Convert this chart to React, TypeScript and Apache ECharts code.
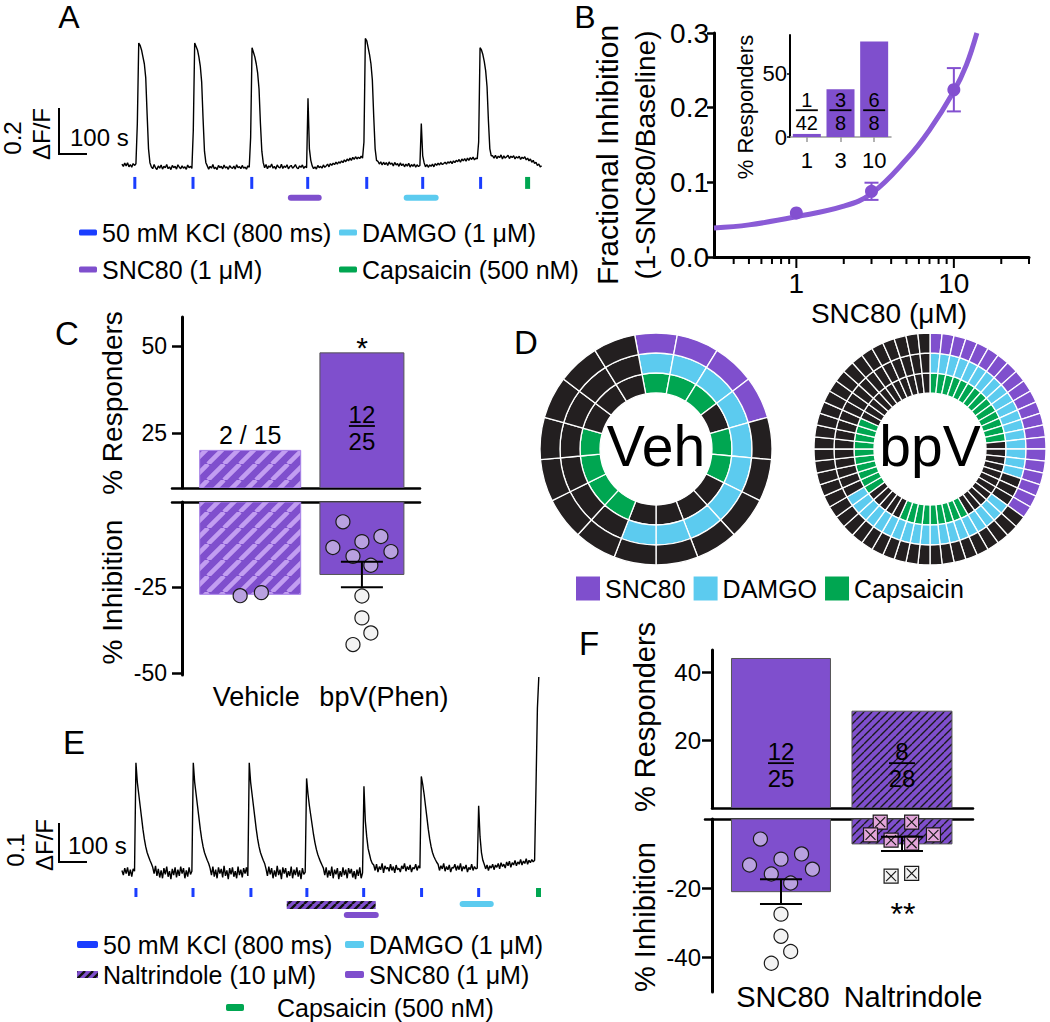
import React, { useEffect, useRef } from 'react';
import * as echarts from 'echarts';

const FONT = "'Liberation Sans', Arial, Helvetica, sans-serif";
const PURPLE = '#7f4fcd';
const CURVE = '#8a5bd6';
const LAVENDER = '#b9a1e0';
const HATCH_LIGHT = '#c29ef1';
const WHITE_PT = '#f3f3f3';
const PINK = '#e3a6da';
const BLUE = '#1a3dff';
const CYAN = '#5ccbef';
const GREEN = '#00a651';
const RING_BLACK = '#231f20';

// ---------------- Panel A / E : calcium traces (dF/F, one value every SAMPLE_S seconds) ----------------
const SAMPLE_S = 5;
const TRACE_A = [
  0.004, -0.006, 0.008, -0.004, 0.010, -0.008, 0.002, -0.010, 0.006, -0.002, 0.005,
  0.18, 0.53, 0.52, 0.50, 0.47, 0.44, 0.38, 0.22, 0.07, 0.01, -0.008,
  -0.016, 0.002, -0.012, -0.020, -0.004, -0.014, 0.000, -0.018, -0.006, -0.012, 0.002, -0.016, -0.008, -0.020, -0.002, -0.012, -0.006, -0.018, 0.001, -0.010, -0.016, -0.004, -0.014, -0.008, -0.019, 0.000, -0.012, -0.006, -0.015,
  0.15, 0.53, 0.515, 0.50, 0.47, 0.43, 0.36, 0.20, 0.06, 0.01,
  -0.004, -0.018, -0.006, -0.014, 0.002, -0.016, -0.010, -0.020, -0.002, -0.012, -0.006, -0.017, 0.000, -0.013, -0.008, -0.019, -0.003, -0.011, -0.015, -0.005, -0.018, 0.001, -0.012, -0.007, -0.016, -0.002, -0.014, -0.009, -0.018, -0.004, -0.010,
  0.12, 0.51, 0.49, 0.47, 0.44, 0.40, 0.33, 0.18, 0.06, 0.01,
  -0.012, 0.002, -0.016, -0.004, -0.010, 0.004, -0.014, -0.006, -0.018, 0.000, -0.009, -0.013, 0.003, -0.015, -0.005, -0.011, 0.001, -0.017, -0.007, -0.002, -0.014, -0.008, 0.002, -0.012, -0.016, -0.004, -0.010, 0.000, -0.015, -0.006, -0.012,
  0.29, 0.07, 0.02,
  -0.004, -0.016, -0.008, -0.018, -0.002, -0.012, -0.006, -0.014, 0.000, -0.010, -0.004, 0.004, -0.008, 0.006, -0.002, 0.008, 0.002, 0.012, 0.004, 0.014, 0.008, 0.018, 0.010, 0.022, 0.014, 0.026, 0.018, 0.030, 0.020, 0.033, 0.024, 0.036, 0.026, 0.034, 0.028, 0.038, 0.030,
  0.10, 0.55, 0.54, 0.51, 0.48, 0.44, 0.37, 0.21, 0.07, 0.02,
  0.016, 0.004, 0.014, 0.000, 0.012, 0.002, 0.010, -0.002, 0.013, 0.003, 0.008, -0.004, 0.011, 0.000, 0.006, -0.006, 0.009, -0.003, 0.005, -0.008, 0.004, -0.005, 0.007, -0.009, 0.002, -0.006, 0.004, -0.010, 0.001, -0.007, -0.002,
  0.18, 0.04, 0.01,
  -0.008, 0.002, -0.010, 0.000, -0.006, 0.004, -0.008, 0.006, -0.002, 0.008, 0.000, 0.010, 0.002, 0.006, 0.012, 0.004, 0.014, 0.008, 0.016, 0.006, 0.018, 0.010, 0.020, 0.014, 0.024, 0.012, 0.026, 0.018, 0.028, 0.016, 0.030, 0.020, 0.032, 0.024, 0.034, 0.022, 0.030, 0.026,
  0.10, 0.51, 0.50, 0.48, 0.45, 0.41, 0.34, 0.19, 0.07, 0.04,
  0.040, 0.030, 0.042, 0.028, 0.038, 0.032, 0.044, 0.026, 0.040, 0.030, 0.036, 0.042, 0.028, 0.038, 0.032, 0.040, 0.026, 0.036, 0.030, 0.038, 0.024, 0.034, 0.028, 0.036, 0.022, 0.030, 0.018, 0.026, 0.012, 0.020, 0.006, 0.012, -0.002, 0.004, -0.008, -0.004,
];
const TRACE_E = [
  0.004, -0.008, 0.010, -0.004, 0.012, -0.010, 0.006, -0.012, 0.008, 0.002,
  0.28, 0.23, 0.20, 0.17, 0.14, 0.11, 0.085, 0.065, 0.05, 0.04, 0.03, 0.022,
  0.012, -0.004, 0.016, -0.010, 0.008, -0.014, 0.004, -0.016, 0.010, -0.006, 0.014, -0.012, 0.002, -0.018, 0.008, -0.008, 0.012, -0.014, 0.006, -0.010, 0.014, -0.004, 0.010, -0.016, 0.004, -0.012, 0.012, -0.006, 0.002,
  0.28, 0.23, 0.20, 0.17, 0.14, 0.11, 0.085, 0.065, 0.05, 0.04, 0.03, 0.022,
  0.010, -0.008, 0.014, -0.012, 0.006, -0.016, 0.012, -0.004, 0.008, -0.014, 0.016, -0.010, 0.004, -0.018, 0.010, -0.006, 0.012, -0.012, 0.002, -0.016, 0.014, -0.008, 0.006, -0.014, 0.010, -0.004, 0.012, -0.010,
  0.28, 0.23, 0.20, 0.17, 0.14, 0.11, 0.085, 0.065, 0.05, 0.04, 0.03, 0.022,
  0.008, -0.010, 0.014, -0.006, 0.010, -0.016, 0.004, -0.012, 0.016, -0.008, 0.006, -0.018, 0.012, -0.004, 0.010, -0.014, 0.002, -0.010, 0.014, -0.016, 0.006, -0.008, 0.012, -0.012, 0.004, -0.018, 0.010, -0.006, 0.000,
  0.24, 0.20, 0.17, 0.145, 0.12, 0.095, 0.075, 0.058, 0.045, 0.035, 0.026, 0.018,
  0.010, -0.008, 0.012, -0.014, 0.004, -0.010, 0.014, -0.016, 0.006, -0.006, 0.010, -0.018, 0.002, -0.012, 0.012, -0.008, 0.006, -0.016, 0.010, -0.004, 0.008, -0.014, 0.002, -0.018, 0.006, -0.010, 0.012, -0.016, -0.002,
  0.22, 0.13, 0.09, 0.06, 0.045, 0.03, 0.022,
  0.018, 0.004, 0.020, 0.000, 0.014, 0.006, 0.022, -0.002, 0.016, 0.008, 0.012, 0.002, 0.020, 0.004, 0.014, -0.002, 0.018, 0.006, 0.010, 0.000, 0.016, 0.008, 0.022, 0.002, 0.014, 0.006, 0.018, 0.000, 0.012, 0.008, 0.020, 0.004, 0.016, 0.010,
  0.245, 0.225, 0.20, 0.17, 0.14, 0.11, 0.085, 0.065, 0.05, 0.04, 0.032, 0.025,
  0.020, 0.004, 0.016, 0.008, 0.022, 0.002, 0.014, 0.006, 0.018, 0.000, 0.012, 0.010, 0.020, 0.004, 0.016, 0.006, 0.022, 0.002, 0.014, 0.008, 0.018, 0.000, 0.012, 0.006, 0.020, 0.004, 0.014, 0.008, 0.010,
  0.17, 0.09, 0.05, 0.03, 0.02,
  0.008, 0.018, 0.004, 0.016, 0.010, 0.020, 0.006, 0.018, 0.012, 0.022, 0.008, 0.024, 0.014, 0.020, 0.010, 0.026, 0.016, 0.028, 0.012, 0.024, 0.018, 0.030, 0.016, 0.026, 0.020, 0.032, 0.018, 0.028, 0.022, 0.034, 0.020, 0.030, 0.024, 0.032, 0.026,
  0.03, 0.22, 0.42, 0.50,
];
// stimulus times (s)
const KCL_A = [46, 254, 464, 664, 875, 1075, 1282];
const CAPS_A = [1450];
const SNC80_A = [[593, 714]];
const DAMGO_A = [[1007, 1132]];
const KCL_E = [50, 254, 461, 661, 864, 1071, 1275];
const CAPS_E = [1489];
const NALT_E = [[589, 907]];
const SNC80_E = [[793, 918]];
const DAMGO_E = [[1207, 1329]];
const SCALE_A = [100, 0.2]; // s, dF/F
const SCALE_E = [100, 0.1];

const KCL_NAME = '50 mM KCl (800 ms)';
const DAMGO_NAME = 'DAMGO (1 μM)';
const SNC_NAME = 'SNC80 (1 μM)';
const CAPS_NAME = 'Capsaicin (500 nM)';
const NALT_NAME = 'Naltrindole (10 μM)';

// ---------------- Panel B ----------------
const B_CONC = [1, 3, 10];
const B_MEAN = [0.059, 0.088, 0.224];
const B_SEM = [0, 0.0115, 0.029];
const B_FIT_X = [0.3, 0.5, 1, 2, 3, 5, 7, 10, 12, 14];
const B_FIT_Y = [0.039, 0.043, 0.054, 0.068, 0.085, 0.131, 0.17, 0.222, 0.257, 0.3];
const B_MINOR_TICKS = [0.4, 0.5, 0.6, 0.7, 0.8, 0.9, 2, 3, 4, 5, 6, 7, 8, 9, 20, 30];
const B_MAJOR_TICKS = [1, 10];
const B_Y_TICKS = [0, 0.1, 0.2, 0.3];
const INSET_CATS = ['1', '3', '10'];
const INSET_PCT = [2.4, 37.5, 75];
const INSET_NUM = ['1', '3', '6'];
const INSET_DEN = ['42', '8', '8'];
const INSET_TICKS = [0, 50];

// ---------------- Panel C ----------------
const C_CATS = ['Vehicle', 'bpV(Phen)'];
const C_RESP = [20, 48];
const C_RESP_LABEL = '2 / 15';
const C_NUM = ['12'];
const C_DEN = ['25'];
const C_INH = [-27, -21.2];
const C_SEM_BPV = 3.7;
const C_UP_TICKS = [25, 50];
const C_LO_TICKS = [-25, -50];
const VEH_PTS = [-27.4, -26.5];
const VEH_JIT = [-0.09, 0.1];
const BPV_PTS_HI = [-5.8, -13.3, -11.6, -10.1, -14.5, -15.9, -18.5];
const BPV_JIT_HI = [-0.17, -0.26, 0, 0.17, 0.26, -0.08, 0.08];
const BPV_PTS_LO = [-27.5, -33.9, -38.3, -41.7];
const BPV_JIT_LO = [0, 0, 0.08, -0.08];

// ---------------- Panel D (run-length coded rings, clockwise from 12 o'clock) ----------------
const VEH_OUTER = [['S', 4], ['N', 13]];
const VEH_MIDDLE = [['D', 10], ['N', 7]];
const VEH_INNER = [['C', 3], ['N', 1], ['C', 2], ['N', 4], ['C', 4], ['N', 3]];
const BPV_OUTER = [['S', 21], ['N', 39]];
const BPV_MIDDLE = [['D', 18], ['N', 3], ['D', 19], ['N', 20]];
const BPV_INNER = [['C', 14], ['N', 11], ['C', 9], ['N', 5], ['C', 10], ['N', 11]];

// ---------------- Panel F ----------------
const F_CATS = ['SNC80', 'Naltrindole'];
const F_RESP = [44, 28.5];
const F_NUM = ['12', '8'];
const F_DEN = ['25', '28'];
const F_INH = [-21.0, -7.2];
const F_SEM = [3.6, 2.05];
const F_UP_TICKS = [20, 40];
const F_LO_TICKS = [-20, -40];
const NALT_PTS_HI = [-0.9, -0.9, -4.6, -4.6, -6.1, -7.0];
const NALT_JIT_HI = [-0.18, 0.08, -0.26, 0.26, -0.09, 0.08];
const NALT_PTS_LO = [-16.5, -15.7];
const NALT_JIT_LO = [-0.09, 0.08];

function hatch(bg: string, fg: string, p: number, lw: number) {
  const c = document.createElement('canvas');
  c.width = p;
  c.height = p;
  const ctx = c.getContext('2d')!;
  ctx.fillStyle = bg;
  ctx.fillRect(0, 0, p, p);
  ctx.strokeStyle = fg;
  ctx.lineWidth = lw;
  ctx.beginPath();
  for (const o of [-p, 0, p]) {
    ctx.moveTo(o, p);
    ctx.lineTo(o + p, 0);
  }
  ctx.stroke();
  return { image: c, repeat: 'repeat' };
}

function expand(rle: any[]) {
  const out: string[] = [];
  rle.forEach(([c, n]) => {
    for (let i = 0; i < n; i++) out.push(c);
  });
  return out;
}

function buildOption() {
  const HATCH_VEH = hatch(PURPLE, HATCH_LIGHT, 16, 4.5);
  const HATCH_NAL = hatch(PURPLE, '#1a1a1a', 8, 1.4);
  const HATCH_E = hatch(PURPLE, '#111', 8, 2.4);

  const lab = (size: number) => ({ fontSize: size, fontFamily: FONT, color: '#000' });
  const blackLine = (w: number) => ({ show: true, onZero: false, lineStyle: { color: '#000', width: w } });
  const noSplit = { show: false };

  const txt = (text: string, x: number, y: number, size: number, o: any = {}) => ({
    type: 'text',
    x,
    y,
    rotation: o.rot || 0,
    silent: true,
    style: {
      text,
      fontSize: size,
      fontFamily: FONT,
      fontWeight: o.weight || 'normal',
      fill: '#000',
      align: o.align || 'center',
      verticalAlign: 'middle',
      textAlign: o.align || 'center',
      textVerticalAlign: 'middle',
    },
  });
  const ROT = Math.PI / 2;

  // ---------- helper series ----------
  const tickSeries = (name: string, times: number[], xi: number, yi: number, top: number, bot: number, color: string, w: number) => ({
    type: 'custom', name, xAxisIndex: xi, yAxisIndex: yi, silent: true, itemStyle: { color },
    data: times.map((t) => [t]),
    renderItem: (params: any, api: any) => {
      const a = api.coord([api.value(0), top]);
      const b = api.coord([api.value(0), bot]);
      return { type: 'line', shape: { x1: a[0], y1: a[1], x2: b[0], y2: b[1] }, style: { stroke: color, lineWidth: w } };
    },
  });
  const spanSeries = (name: string, spans: number[][], xi: number, yi: number, level: number, color: string, w: number) => ({
    type: 'custom', name, xAxisIndex: xi, yAxisIndex: yi, silent: true, itemStyle: { color },
    data: spans.map((s) => [s[0], s[1]]),
    renderItem: (params: any, api: any) => {
      const a = api.coord([api.value(0), level]);
      const b = api.coord([api.value(1), level]);
      return { type: 'line', shape: { x1: a[0] + w / 2, y1: a[1], x2: b[0] - w / 2, y2: b[1] }, style: { stroke: color, lineWidth: w, lineCap: 'round' } };
    },
  });
  const scaleBar = (xi: number, yi: number, t0: number, v0: number, sc: number[]) => ({
    type: 'custom', xAxisIndex: xi, yAxisIndex: yi, silent: true,
    data: [[t0, v0, sc[0], sc[1]]],
    renderItem: (params: any, api: any) => {
      const t = api.value(0), v = api.value(1), dt = api.value(2), dv = api.value(3);
      const p1 = api.coord([t, v + dv]);
      const p2 = api.coord([t, v]);
      const p3 = api.coord([t + dt, v]);
      return { type: 'polyline', shape: { points: [p1, p2, p3] }, style: { stroke: '#000', lineWidth: 2, fill: null } };
    },
  });
  const traceSeries = (vals: number[], xi: number, yi: number) => ({
    type: 'line', xAxisIndex: xi, yAxisIndex: yi, silent: true, showSymbol: false, symbol: 'none',
    data: vals.map((v, i) => [i * SAMPLE_S, v]),
    lineStyle: { color: '#000', width: 1.4 },
  });
  const barSeries = (xi: number, yi: number, vals: number[], widths: number[], fills: any[], strokes: string[]) => ({
    type: 'custom', xAxisIndex: xi, yAxisIndex: yi, silent: true, clip: true, z: 2,
    data: vals.map((v, i) => [i + 1, v]),
    renderItem: (params: any, api: any) => {
      const i = params.dataIndex;
      const x = api.value(0), v = api.value(1);
      const cs = params.coordSys;
      const a = api.coord([x, 0]);
      const b = api.coord([x, v]);
      const a1 = Math.max(cs.y, Math.min(a[1], cs.y + cs.height));
      const w = widths[i];
      return {
        type: 'rect',
        shape: { x: a[0] - w / 2, y: Math.min(a1, b[1]), width: w, height: Math.abs(b[1] - a1) },
        style: { fill: fills[i], stroke: strokes[i], lineWidth: 1 },
      };
    },
  });
  const fractionSeries = (xi: number, yi: number, pts: number[][], nums: string[], dens: string[], size: number, lw: number, gN: number, gD: number) => ({
    type: 'custom', xAxisIndex: xi, yAxisIndex: yi, silent: true, z: 6,
    data: pts,
    renderItem: (params: any, api: any) => {
      const i = params.dataIndex;
      const p = api.coord([api.value(0), api.value(1)]);
      const st = (t: string, va: string) => ({ text: t, fontSize: size, fontFamily: FONT, fill: '#000', align: 'center', verticalAlign: va, textAlign: 'center', textVerticalAlign: va });
      return {
        type: 'group',
        children: [
          { type: 'text', x: p[0], y: p[1] - gN, style: st(nums[i], 'bottom') },
          { type: 'line', shape: { x1: p[0] - lw / 2, y1: p[1], x2: p[0] + lw / 2, y2: p[1] }, style: { stroke: '#000', lineWidth: 1.8 } },
          { type: 'text', x: p[0], y: p[1] + gD, style: st(dens[i], 'top') },
        ],
      };
    },
  });
  const errSeries = (xi: number, yi: number, pts: number[][], capW: number, color: string, lw: number) => ({
    type: 'custom', xAxisIndex: xi, yAxisIndex: yi, silent: true, z: 7,
    data: pts,
    renderItem: (params: any, api: any) => {
      const x = api.value(0), m = api.value(1), s = api.value(2);
      const hi = api.coord([x, m + s]);
      const lo = api.coord([x, m - s]);
      const st = { stroke: color, lineWidth: lw };
      return {
        type: 'group',
        children: [
          { type: 'line', shape: { x1: hi[0], y1: hi[1], x2: lo[0], y2: lo[1] }, style: st },
          { type: 'line', shape: { x1: hi[0] - capW / 2, y1: hi[1], x2: hi[0] + capW / 2, y2: hi[1] }, style: st },
          { type: 'line', shape: { x1: lo[0] - capW / 2, y1: lo[1], x2: lo[0] + capW / 2, y2: lo[1] }, style: st },
        ],
      };
    },
  });
  const dots = (xi: number, yi: number, cat: number, vals: number[], jit: number[], color: string, symbol = 'circle', size = 14) => ({
    type: 'scatter', xAxisIndex: xi, yAxisIndex: yi, silent: true, z: 5, symbol, symbolSize: size,
    data: vals.map((v, i) => [cat + jit[i], v]),
    itemStyle: { color, borderColor: '#1a1a1a', borderWidth: 1.2, opacity: 1 },
  });
  const RING_COLORS: any = { S: PURPLE, D: CYAN, C: GREEN, N: RING_BLACK };
  const RING_NAMES: any = { S: 'SNC80', D: 'DAMGO', C: 'Capsaicin', N: 'Non-responder' };
  const ring = (rle: any[], center: number[], r0: number, r1: number, startAngle: number) => ({
    type: 'pie', center, radius: [r0, r1], startAngle, silent: true,
    label: { show: false }, labelLine: { show: false }, emphasis: { disabled: true },
    itemStyle: { borderColor: '#fff', borderWidth: 1.3 },
    data: expand(rle).map((c) => ({ value: 1, name: RING_NAMES[c], itemStyle: { color: RING_COLORS[c] } })),
  });

  const sqX = 'path://M0,0L14,0L14,14L0,14Z M2,2L12,12 M12,2L2,12';
  const VEH_START = 90 + 360 / 17 / 2;
  const R = [56, 76, 96, 116];
  const VC = [656, 449];
  const BC = [930, 449];

  const legendText = { fontSize: 25, fontFamily: FONT, color: '#000', lineHeight: 25 };
  const lg = (name: string, icon: string, color: any) => ({ name, icon, itemStyle: { color, borderWidth: 0 } });

  return {
    animation: false,
    backgroundColor: '#fff',
    textStyle: { fontFamily: FONT },
    grid: [
      { left: 59, top: 35, width: 484, height: 170 },
      { left: 714, top: 33, width: 315, height: 224 },
      { left: 790, top: 35, width: 101, height: 102 },
      { left: 172, top: 317, width: 248, height: 171 },
      { left: 172, top: 502, width: 248, height: 173 },
      { left: 59, top: 670, width: 484, height: 250 },
      { left: 712, top: 650, width: 261, height: 158 },
      { left: 705, top: 819, width: 268, height: 173 },
    ],
    xAxis: [
      { gridIndex: 0, type: 'value', min: -225, max: 1505, show: false },
      {
        gridIndex: 1, type: 'log', logBase: 10, min: 0.3, max: 30,
        axisLine: blackLine(3), axisTick: { show: false }, splitLine: noSplit,
        axisLabel: {
          ...lab(28), margin: 12, hideOverlap: false,
          formatter: (v: number) => (B_MAJOR_TICKS.some((m) => Math.abs(v - m) < 1e-6) ? String(Math.round(v)) : ''),
        },
      },
      {
        gridIndex: 2, type: 'category', data: INSET_CATS,
        axisLine: { show: true, lineStyle: { color: '#9a9a9a', width: 1.5 } },
        axisTick: { show: true, alignWithLabel: true, length: 5, lineStyle: { color: '#9a9a9a', width: 1.5 } },
        axisLabel: { ...lab(22), margin: 12 }, splitLine: noSplit,
      },
      { gridIndex: 3, type: 'value', min: 0.3, max: 2.52, position: 'bottom', axisLine: blackLine(2.5), axisTick: { show: false }, axisLabel: { show: false }, splitLine: noSplit },
      { gridIndex: 4, type: 'value', min: 0.3, max: 2.52, position: 'top', axisLine: blackLine(2.5), axisTick: { show: false }, axisLabel: { show: false }, splitLine: noSplit },
      {
        gridIndex: 4, type: 'value', min: 0.3, max: 2.52, position: 'bottom',
        axisLine: { show: false }, axisTick: { show: false }, splitLine: noSplit,
        axisLabel: {
          ...lab(27), margin: 8, customValues: [1, 2],
          formatter: (v: number) => (Math.round(v) === 1 ? '{a|' + C_CATS[0] + '}' : '{b|' + C_CATS[1] + '}'),
          rich: { a: { ...lab(27), padding: [0, 0, 0, 12] }, b: { ...lab(27), padding: [0, 0, 0, 44] } },
        },
      },
      { gridIndex: 5, type: 'value', min: -225, max: 1505, show: false },
      { gridIndex: 6, type: 'value', min: 0.43, max: 2.587, position: 'bottom', axisLine: blackLine(2.5), axisTick: { show: false }, axisLabel: { show: false }, splitLine: noSplit },
      { gridIndex: 7, type: 'value', min: 0.372, max: 2.587, position: 'top', axisLine: blackLine(2.5), axisTick: { show: false }, axisLabel: { show: false }, splitLine: noSplit },
      {
        gridIndex: 7, type: 'value', min: 0.372, max: 2.587, position: 'bottom',
        axisLine: { show: false }, axisTick: { show: false }, splitLine: noSplit,
        axisLabel: {
          ...lab(29), margin: -10, customValues: [1, 2],
          formatter: (v: number) => (Math.round(v) === 1 ? '{a|' + F_CATS[0] + '}' : '{b|' + F_CATS[1] + '}'),
          rich: { a: { ...lab(29), padding: [0, 0, 0, 4] }, b: { ...lab(29), padding: [0, 0, 0, 22] } },
        },
      },
    ],
    yAxis: [
      { gridIndex: 0, type: 'value', min: -0.174, max: 0.565, show: false },
      {
        gridIndex: 1, type: 'value', min: 0, max: 0.3, interval: 0.1,
        axisLine: blackLine(3), splitLine: noSplit,
        axisTick: { show: true, length: 7, customValues: B_Y_TICKS, lineStyle: { color: '#000', width: 2.5 } },
        axisLabel: { ...lab(28), margin: 5, customValues: B_Y_TICKS, formatter: (v: number) => v.toFixed(1) },
      },
      {
        gridIndex: 2, type: 'value', min: 0, max: 80,
        axisLine: blackLine(2), splitLine: noSplit,
        axisTick: { show: true, length: 3, customValues: INSET_TICKS, lineStyle: { color: '#000', width: 1.5 } },
        axisLabel: { ...lab(22), margin: 3, customValues: INSET_TICKS },
      },
      {
        gridIndex: 3, type: 'value', min: 9.2, max: 58.3, offset: -10,
        axisLine: blackLine(3), splitLine: noSplit,
        axisTick: { show: true, length: 10, customValues: C_UP_TICKS, lineStyle: { color: '#000', width: 2.5 } },
        axisLabel: { ...lab(23), margin: 15, customValues: C_UP_TICKS },
      },
      {
        gridIndex: 4, type: 'value', min: -50.6, max: 0, offset: -10,
        axisLine: blackLine(3), splitLine: noSplit,
        axisTick: { show: true, length: 10, customValues: C_LO_TICKS, lineStyle: { color: '#000', width: 2.5 } },
        axisLabel: { ...lab(23), margin: 15, customValues: C_LO_TICKS },
      },
      { gridIndex: 5, type: 'value', min: -0.123, max: 0.518, show: false },
      {
        gridIndex: 6, type: 'value', min: 0, max: 46.5,
        axisLine: blackLine(3), splitLine: noSplit,
        axisTick: { show: true, length: 10, customValues: F_UP_TICKS, lineStyle: { color: '#000', width: 2.5 } },
        axisLabel: { ...lab(24), margin: 11, customValues: F_UP_TICKS },
      },
      {
        gridIndex: 7, type: 'value', min: -50, max: 0, offset: -7,
        axisLine: blackLine(3), splitLine: noSplit,
        axisTick: { show: true, length: 10, customValues: F_LO_TICKS, lineStyle: { color: '#000', width: 2.5 } },
        axisLabel: { ...lab(24), margin: 11, customValues: F_LO_TICKS },
      },
    ],
    legend: [
      { left: 79, top: 220, orient: 'vertical', itemGap: 12, itemWidth: 18, itemHeight: 6, padding: 0, selectedMode: false, textStyle: legendText,
        data: [lg(KCL_NAME, 'roundRect', BLUE), lg(SNC_NAME, 'roundRect', PURPLE)] },
      { left: 339, top: 220, orient: 'vertical', itemGap: 12, itemWidth: 18, itemHeight: 6, padding: 0, selectedMode: false, textStyle: legendText,
        data: [lg(DAMGO_NAME, 'roundRect', CYAN), lg(CAPS_NAME, 'roundRect', GREEN)] },
      { left: 576, top: 576, orient: 'horizontal', itemGap: 8, itemWidth: 24, itemHeight: 24, padding: 0, selectedMode: false, textStyle: legendText,
        data: [lg('SNC80', 'rect', PURPLE), lg('DAMGO', 'rect', CYAN), lg('Capsaicin', 'rect', GREEN)] },
      { left: 77, top: 932, orient: 'vertical', itemGap: 5, itemWidth: 21, itemHeight: 7, padding: 0, selectedMode: false, textStyle: legendText,
        data: [lg(KCL_NAME, 'roundRect', BLUE), lg(NALT_NAME, 'rect', HATCH_E)] },
      { left: 345, top: 932, orient: 'vertical', itemGap: 5, itemWidth: 19, itemHeight: 7, padding: 0, selectedMode: false, textStyle: legendText,
        data: [lg(DAMGO_NAME, 'roundRect', CYAN), lg(SNC_NAME, 'roundRect', PURPLE)] },
      { left: 226, top: 995, orient: 'vertical', itemGap: 5, itemWidth: 18, itemHeight: 7, padding: 0, selectedMode: false,
        textStyle: { ...legendText, padding: [0, 0, 0, 28] },
        data: [lg(CAPS_NAME, 'roundRect', GREEN)] },
    ],
    graphic: {
      elements: [
        txt('A', 69, 17, 32), txt('B', 585, 17, 32), txt('C', 67, 333, 33),
        txt('D', 526, 342, 33), txt('E', 74, 742, 33), txt('F', 589, 643, 33),
        txt('100 s', 70, 137, 24, { align: 'left' }),
        txt('0.2', 12, 138, 24, { rot: ROT }),
        txt('ΔF/F', 41, 134, 24, { rot: ROT }),
        txt('100 s', 68, 845, 24, { align: 'left' }),
        txt('0.1', 15, 850, 24, { rot: ROT }),
        txt('ΔF/F', 44, 845, 24, { rot: ROT }),
        txt('Fractional Inhibition', 607, 155, 30, { rot: ROT }),
        txt('(1-SNC80/Baseline)', 645, 155, 28, { rot: ROT }),
        txt('SNC80 (μM)', 889, 313, 28),
        txt('% Responders', 745, 107, 22, { rot: ROT }),
        txt('% Responders', 112, 403, 28, { rot: ROT }),
        txt('% Inhibition', 112, 592, 28, { rot: ROT }),
        txt('*', 362, 347, 30),
        txt('Veh', 656, 446, 57),
        txt('bpV', 930, 446, 57),
        txt('% Responders', 645, 717, 29, { rot: ROT }),
        txt('% Inhibition', 645, 917, 29, { rot: ROT }),
        txt('**', 903, 914, 32),
      ],
    },
    series: [
      // ---- A ----
      traceSeries(TRACE_A, 0, 0),
      scaleBar(0, 0, -225, 0.048, SCALE_A),
      tickSeries(KCL_NAME, KCL_A, 0, 0, -0.052, -0.104, BLUE, 3),
      tickSeries(CAPS_NAME, CAPS_A, 0, 0, -0.052, -0.104, GREEN, 5),
      spanSeries(SNC_NAME, SNC80_A, 0, 0, -0.143, PURPLE, 6),
      spanSeries(DAMGO_NAME, DAMGO_A, 0, 0, -0.143, CYAN, 6),
      // ---- B ----
      {
        type: 'line', xAxisIndex: 1, yAxisIndex: 1, silent: true, smooth: 0.4, showSymbol: false, symbol: 'none',
        data: B_FIT_X.map((x, i) => [x, B_FIT_Y[i]]), lineStyle: { color: CURVE, width: 5 }, z: 3,
      },
      {
        type: 'scatter', xAxisIndex: 1, yAxisIndex: 1, silent: true, symbolSize: 13, z: 4,
        data: B_CONC.map((c, i) => [c, B_MEAN[i]]), itemStyle: { color: '#8350d0', opacity: 1 },
      },
      errSeries(1, 1, B_CONC.map((c, i) => [c, B_MEAN[i], B_SEM[i]]).filter((d) => d[2] > 0), 14, '#8350d0', 2),
      {
        type: 'custom', xAxisIndex: 1, yAxisIndex: 1, silent: true, z: 3,
        data: [...B_MINOR_TICKS.map((v) => [v, 0, 0]), ...B_MAJOR_TICKS.map((v) => [v, 0, 1])],
        renderItem: (params: any, api: any) => {
          const p = api.coord([api.value(0), 0]);
          const len = api.value(2) ? 11 : 7;
          return { type: 'line', shape: { x1: p[0], y1: p[1], x2: p[0], y2: p[1] + len }, style: { stroke: '#000', lineWidth: 2 } };
        },
      },
      {
        type: 'bar', xAxisIndex: 2, yAxisIndex: 2, silent: true, barWidth: 28, data: INSET_PCT,
        itemStyle: { color: PURPLE }, z: 3,
      },
      fractionSeries(2, 2, INSET_CATS.map((c, i) => [i, 21]), INSET_NUM, INSET_DEN, 20, 22, 0, 3),
      // ---- C ----
      barSeries(3, 3, C_RESP, [101, 84], [HATCH_VEH, PURPLE], ['#a67fe6', '#555']),
      barSeries(4, 4, C_INH, [101, 84], [HATCH_VEH, PURPLE], ['#a67fe6', '#555']),
      {
        type: 'custom', xAxisIndex: 3, yAxisIndex: 3, silent: true, z: 6,
        data: [[1, C_RESP[0]]],
        renderItem: (params: any, api: any) => {
          const p = api.coord([api.value(0), api.value(1)]);
          return { type: 'text', x: p[0], y: p[1] - 3, style: { text: C_RESP_LABEL, fontSize: 25, fontFamily: FONT, fill: '#000', align: 'center', verticalAlign: 'bottom', textAlign: 'center', textVerticalAlign: 'bottom' } };
        },
      },
      fractionSeries(3, 3, [[2, 27]], C_NUM, C_DEN, 24, 26, 0, 3),
      dots(4, 4, 1, VEH_PTS, VEH_JIT, LAVENDER),
      dots(4, 4, 2, BPV_PTS_HI, BPV_JIT_HI, LAVENDER),
      dots(4, 4, 2, BPV_PTS_LO, BPV_JIT_LO, WHITE_PT),
      errSeries(4, 4, [[2, C_INH[1], C_SEM_BPV]], 42, '#000', 2),
      // ---- D ----
      ring(VEH_INNER, VC, R[0], R[1], VEH_START),
      ring(VEH_MIDDLE, VC, R[1], R[2], VEH_START),
      ring(VEH_OUTER, VC, R[2], R[3], VEH_START),
      ring(BPV_INNER, BC, R[0], R[1], 90),
      ring(BPV_MIDDLE, BC, R[1], R[2], 90),
      ring(BPV_OUTER, BC, R[2], R[3], 90),
      // ---- E ----
      traceSeries(TRACE_E, 6, 5),
      scaleBar(6, 5, -225, 0.0256, SCALE_E),
      tickSeries(KCL_NAME, KCL_E, 6, 5, -0.041, -0.064, BLUE, 3),
      tickSeries(CAPS_NAME, CAPS_E, 6, 5, -0.041, -0.064, GREEN, 5),
      {
        type: 'custom', name: NALT_NAME, xAxisIndex: 6, yAxisIndex: 5, silent: true, itemStyle: { color: PURPLE },
        data: NALT_E.map((s) => [s[0], s[1]]),
        renderItem: (params: any, api: any) => {
          const a = api.coord([api.value(0), -0.0744]);
          const b = api.coord([api.value(1), -0.0949]);
          return { type: 'rect', shape: { x: a[0], y: a[1], width: b[0] - a[0], height: b[1] - a[1] }, style: { fill: HATCH_E } };
        },
      },
      spanSeries(SNC_NAME, SNC80_E, 6, 5, -0.110, PURPLE, 6),
      spanSeries(DAMGO_NAME, DAMGO_E, 6, 5, -0.082, CYAN, 6),
      // ---- F ----
      barSeries(7, 6, F_RESP, [99, 100], [PURPLE, HATCH_NAL], ['#555', '#555']),
      barSeries(8, 7, F_INH, [99, 100], [PURPLE, HATCH_NAL], ['#555', '#555']),
      fractionSeries(7, 6, [[1, 13.2], [2, 13.2]], F_NUM, F_DEN, 24, 26, 0, 3),
      dots(8, 7, 1, BPV_PTS_HI, BPV_JIT_HI, LAVENDER),
      dots(8, 7, 1, BPV_PTS_LO, BPV_JIT_LO, WHITE_PT),
      dots(8, 7, 2, NALT_PTS_HI, NALT_JIT_HI, PINK, sqX, 14),
      dots(8, 7, 2, NALT_PTS_LO, NALT_JIT_LO, WHITE_PT, sqX, 14),
      errSeries(8, 7, F_INH.map((m, i) => [i + 1, m, F_SEM[i]]), 42, '#000', 2),
    ],
  };
}

export default function App() {
  const ref = useRef<HTMLDivElement>(null);
  useEffect(() => {
    const chart = echarts.init(ref.current as HTMLDivElement, null, { renderer: 'svg' });
    chart.setOption(buildOption() as any);
    return () => chart.dispose();
  }, []);
  return (
    <div
      ref={ref}
      style={{ position: 'fixed', left: 0, top: 0, width: 1050, height: 1022, background: '#fff' }}
    />
  );
}
